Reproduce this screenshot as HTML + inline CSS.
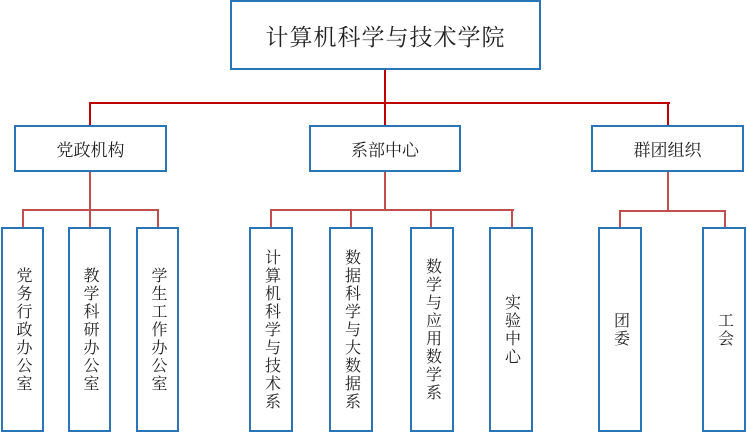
<!DOCTYPE html>
<html><head><meta charset="utf-8"><style>
body{margin:0;width:747px;height:433px;background:#fff;position:relative;overflow:hidden;font-family:"Liberation Serif","Noto Serif CJK SC",serif;color:#222}
.b{position:absolute;box-sizing:border-box;border:2.5px solid #2a75b8;background:#fff;display:flex;align-items:center;justify-content:center}
.v{writing-mode:vertical-rl;font-size:16px;letter-spacing:2px}
.l{position:absolute;background:#c0504d}
.r{position:absolute;background:#c00000}
</style></head><body>
<div class="r" style="left:384px;top:69px;width:2px;height:58px"></div>
<div class="r" style="left:89px;top:102px;width:581px;height:2px"></div>
<div class="r" style="left:89px;top:102px;width:2px;height:25px"></div>
<div class="r" style="left:667px;top:102px;width:2px;height:25px"></div>

<div class="l" style="left:89px;top:170px;width:2px;height:60px"></div>
<div class="l" style="left:22px;top:209px;width:137px;height:2px"></div>
<div class="l" style="left:22px;top:209px;width:2px;height:20px"></div>
<div class="l" style="left:157px;top:209px;width:2px;height:20px"></div>

<div class="l" style="left:384px;top:170px;width:2px;height:41px"></div>
<div class="l" style="left:270px;top:209px;width:244px;height:2px"></div>
<div class="l" style="left:270px;top:209px;width:2px;height:20px"></div>
<div class="l" style="left:350px;top:209px;width:2px;height:20px"></div>
<div class="l" style="left:430px;top:209px;width:2px;height:20px"></div>
<div class="l" style="left:511px;top:209px;width:2px;height:20px"></div>

<div class="l" style="left:667px;top:170px;width:2px;height:41px"></div>
<div class="l" style="left:619px;top:210px;width:107px;height:2px"></div>
<div class="l" style="left:619px;top:210px;width:2px;height:19px"></div>
<div class="l" style="left:724px;top:210px;width:2px;height:19px"></div>

<div class="b" style="left:230px;top:0;width:311px;height:70px;font-size:23px;letter-spacing:1px">计算机科学与技术学院</div>
<div class="b" style="left:14px;top:125px;width:153px;height:47px;font-size:17px">党政机构</div>
<div class="b" style="left:309px;top:125px;width:152px;height:47px;font-size:17px">系部中心</div>
<div class="b" style="left:591px;top:125px;width:153px;height:47px;font-size:17px">群团组织</div>

<div class="b" style="left:1px;top:227px;width:43px;height:205px"><span class="v">党务行政办公室</span></div>
<div class="b" style="left:68px;top:227px;width:43px;height:205px"><span class="v">教学科研办公室</span></div>
<div class="b" style="left:136px;top:227px;width:43px;height:205px"><span class="v">学生工作办公室</span></div>

<div class="b" style="left:249px;top:227px;width:44px;height:205px"><span class="v">计算机科学与技术系</span></div>
<div class="b" style="left:329px;top:227px;width:44px;height:205px"><span class="v">数据科学与大数据系</span></div>
<div class="b" style="left:410px;top:227px;width:44px;height:205px"><span class="v">数学与应用数学系</span></div>
<div class="b" style="left:489px;top:227px;width:44px;height:205px"><span class="v">实验中心</span></div>

<div class="b" style="left:598px;top:227px;width:44px;height:205px"><span class="v">团委</span></div>
<div class="b" style="left:702px;top:227px;width:44px;height:205px"><span class="v">工会</span></div>
</body></html>
